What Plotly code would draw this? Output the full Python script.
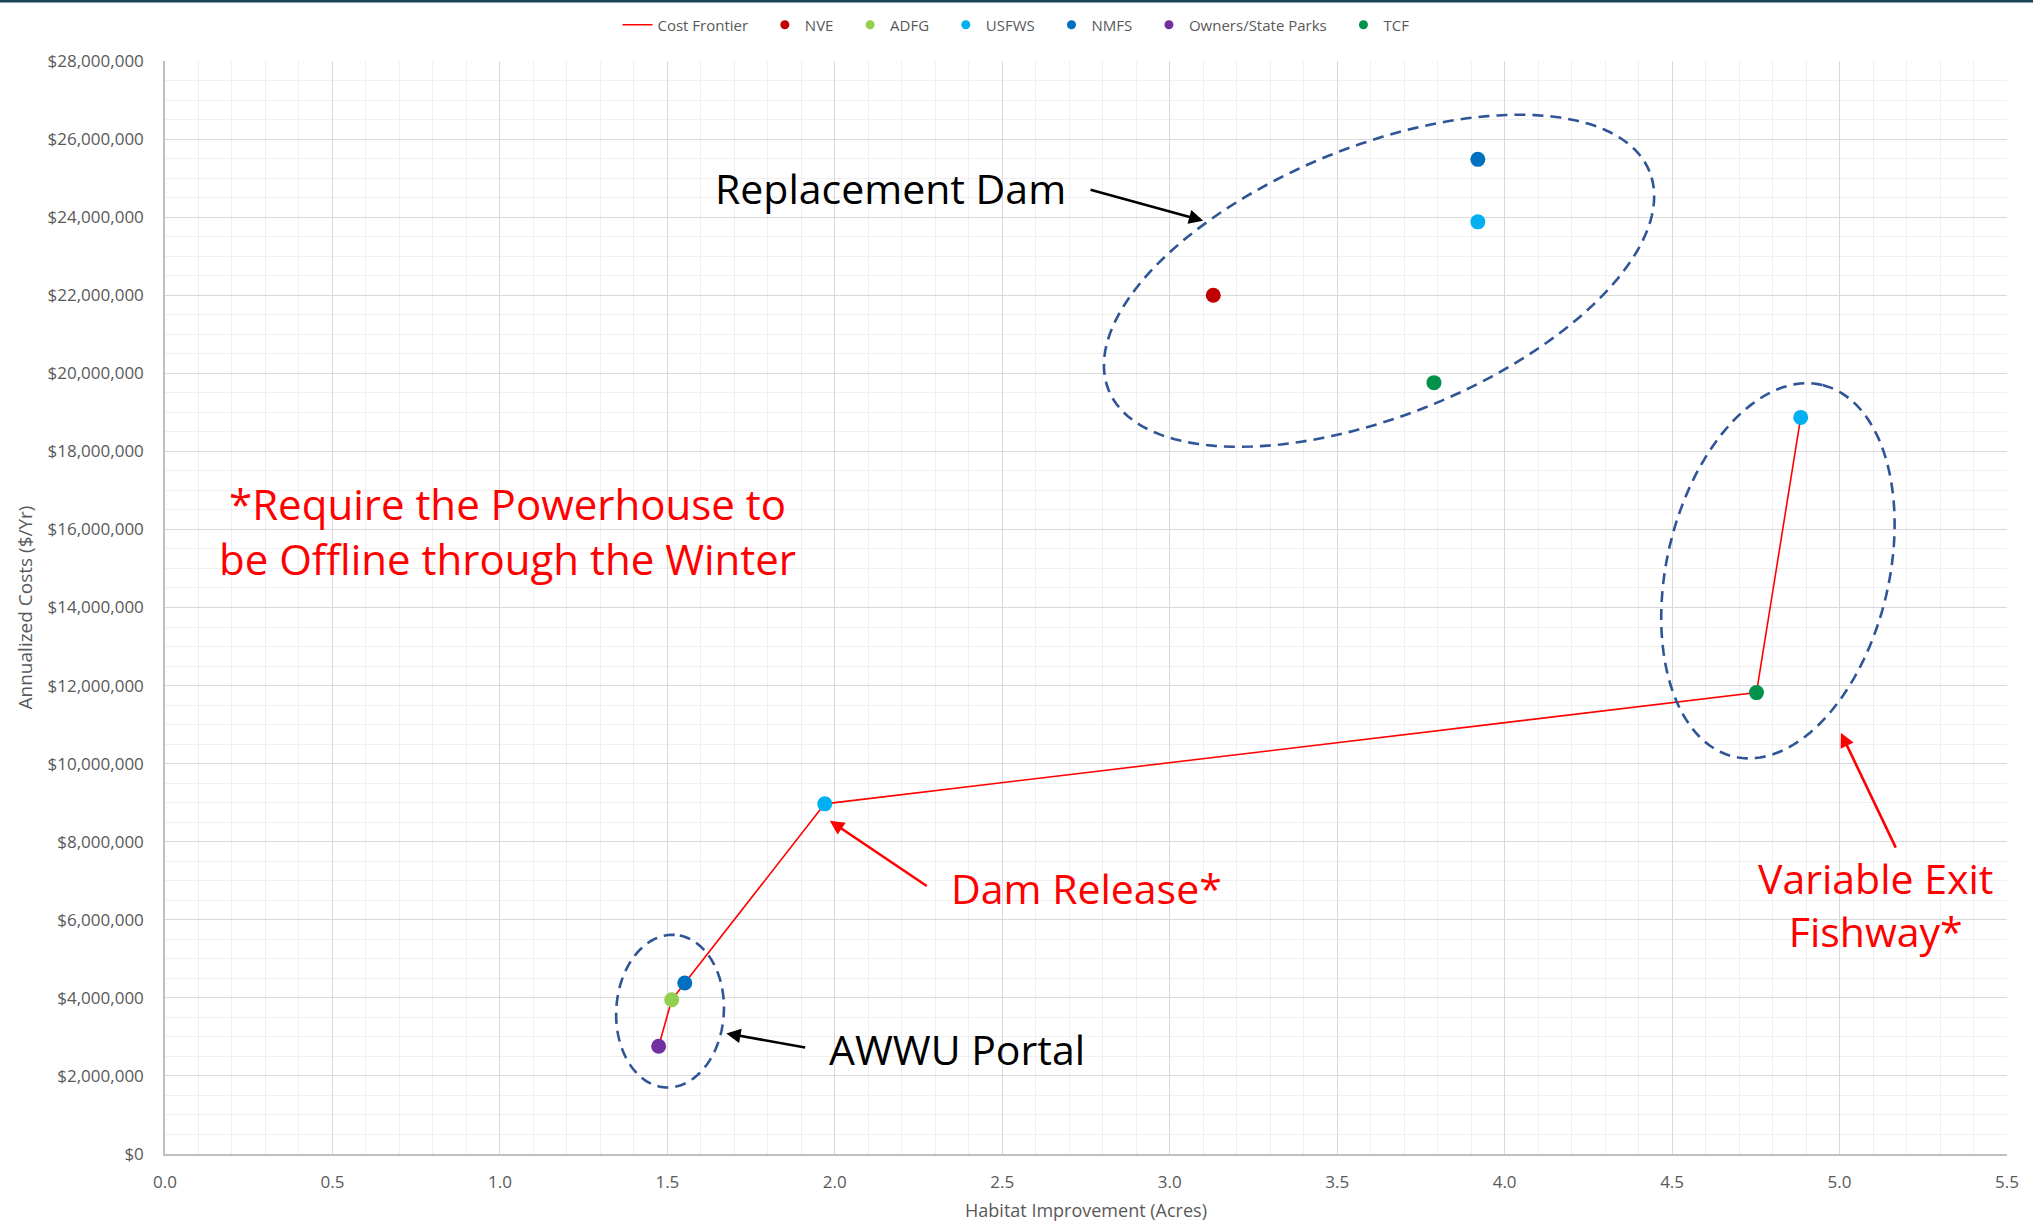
import numpy as np
import plotly.graph_objects as go

# ---------------- data ----------------
series_names = ["NVE", "ADFG", "USFWS", "NMFS", "Owners/State Parks", "TCF"]
series_colors = ["#C00000", "#92D050", "#00B0F0", "#0070C0", "#7030A0", "#00924A"]

nve_x = [3.13]
nve_y = [22_000_000]
adfg_x = [1.513]
adfg_y = [3_950_000]
usfws_x = [1.970, 3.920, 4.884]
usfws_y = [8_970_000, 23_880_000, 18_870_000]
nmfs_x = [1.552, 3.920]
nmfs_y = [4_380_000, 25_480_000]
owners_x = [1.474]
owners_y = [2_760_000]
tcf_x = [3.789, 4.752]
tcf_y = [19_760_000, 11_820_000]

frontier_x = [1.474, 1.513, 1.552, 1.970, 4.752, 4.884]
frontier_y = [2_760_000, 3_950_000, 4_380_000, 8_970_000, 11_820_000, 18_870_000]

series_x = [nve_x, adfg_x, usfws_x, nmfs_x, owners_x, tcf_x]
series_y = [nve_y, adfg_y, usfws_y, nmfs_y, owners_y, tcf_y]

X_RANGE = [0, 5.5]
Y_RANGE = [0, 28_000_000]

# ---------------- layout geometry ----------------
W, H = 2033, 1222
ML, MR, MT, MB = 165, 26, 61, 68
PW, PH = W - ML - MR, H - MT - MB
PX_X = PW / (X_RANGE[1] - X_RANGE[0])
PX_Y = PH / (Y_RANGE[1] - Y_RANGE[0])

FONT = "Open Sans"
GRAY = "#595959"
GAP = "\u00a0" * 3

fig = go.Figure()

# cost frontier line
fig.add_trace(go.Scatter(x=frontier_x, y=frontier_y, mode="lines",
                         line=dict(color="#FF0000", width=1.6),
                         name="Cost Frontier" + GAP, showlegend=True, hoverinfo="skip"))

# series points (legend drawn by small dummy markers)
for name, col, xs, ys in zip(series_names, series_colors, series_x, series_y):
    fig.add_trace(go.Scatter(x=xs, y=ys, mode="markers", name=name,
                             marker=dict(color=col, size=15, line=dict(width=0)),
                             showlegend=False))
for name, col in zip(series_names, series_colors):
    fig.add_trace(go.Scatter(x=[None], y=[None], mode="markers", name=name + GAP,
                             marker=dict(color=col, size=9), showlegend=True))


def ellipse_path(cx, cy, a, b, deg, n=160):
    th = np.radians(deg)
    t = np.linspace(0, 2 * np.pi, n, endpoint=False)
    dx = a * np.cos(t) * np.cos(th) - b * np.sin(t) * np.sin(th)
    dy = a * np.cos(t) * np.sin(th) + b * np.sin(t) * np.cos(th)
    xs = cx + dx / PX_X
    ys = cy + dy / PX_Y
    return "M " + " L ".join(f"{x:.5f},{y:.1f}" for x, y in zip(xs, ys)) + " Z"


ell_style = dict(color="#2F5597", width=2.6, dash="11px,7px")
shapes = [
    dict(type="path", xref="x", yref="y",
         path=ellipse_path(3.625, 22_370_000, 291.7, 134.8, 22), line=ell_style),
    dict(type="path", xref="x", yref="y",
         path=ellipse_path(4.816, 14_940_000, 191, 111, 76.6), line=ell_style),
    dict(type="path", xref="x", yref="y",
         path=ellipse_path(1.508, 3_660_000, 76.4, 53.8, 86.5), line=ell_style),
    # dark top border of the chart frame
    dict(type="rect", xref="paper", yref="paper",
         x0=-ML / PW, x1=1 + MR / PW, y0=1 + (MT - 2.5) / PH, y1=1 + MT / PH,
         line=dict(width=0), fillcolor="#1B4457"),
]


def arrow(x, y, ax, ay, color):
    return dict(x=x, y=y, ax=ax, ay=ay, xref="x", yref="y", axref="x", ayref="y",
                text="", showarrow=True, arrowhead=2, arrowsize=1.1,
                arrowwidth=2.6, arrowcolor=color, standoff=0, startstandoff=0)


def label(x, y, text, color, size=41):
    return dict(x=x, y=y, xref="x", yref="y", text=text, showarrow=False,
                font=dict(family=FONT, size=size, color=color),
                xanchor="center", yanchor="middle", align="center")


annotations = [
    arrow(3.100, 23_910_000, 2.759, 24_710_000, "#000000"),
    arrow(1.985, 8_540_000, 2.279, 6_840_000, "#FF0000"),
    arrow(1.676, 3_090_000, 1.916, 2_720_000, "#000000"),
    arrow(5.004, 10_790_000, 5.170, 7_810_000, "#FF0000"),
    label(2.165, 24_750_000, "Replacement Dam", "#000000"),
    label(1.022, 15_960_000, "*Require the Powerhouse to<br>be Offline through the Winter", "#FF0000", 42),
    label(2.750, 6_810_000, "Dam Release*", "#FF0000"),
    label(2.366, 2_690_000, "AWWU Portal", "#000000"),
    label(5.108, 6_380_000, "Variable Exit<br>Fishway*", "#FF0000"),
]

fig.update_layout(
    width=W, height=H,
    margin=dict(l=ML, r=MR, t=MT, b=MB, pad=0, autoexpand=False),
    paper_bgcolor="white", plot_bgcolor="white",
    font=dict(family=FONT, color=GRAY, size=16),
    shapes=shapes, annotations=annotations,
    legend=dict(orientation="h", x=(1022 - ML) / PW, xanchor="center",
                y=1 + (MT - 25) / PH, yanchor="middle",
                font=dict(family=FONT, size=15, color=GRAY),
                bgcolor="rgba(0,0,0,0)", itemwidth=30, tracegroupgap=0),
    showlegend=True,
)

fig.update_xaxes(
    range=X_RANGE, dtick=0.5, tick0=0, tickformat=".1f", automargin=False,
    showgrid=True, gridcolor="#D9D9D9", gridwidth=1,
    minor=dict(dtick=0.1, showgrid=True, gridcolor="#F0F0F0", gridwidth=1),
    showline=True, linecolor="#BFBFBF", linewidth=1.5,
    ticks="outside", ticklen=12, tickcolor="rgba(0,0,0,0)",
    tickfont=dict(family=FONT, size=17, color=GRAY),
    title=dict(text="Habitat Improvement (Acres)", standoff=14,
               font=dict(family=FONT, size=18, color=GRAY)),
    zeroline=False,
)
fig.update_yaxes(
    range=Y_RANGE, dtick=2_000_000, tick0=0, tickformat="$,.0f", automargin=False,
    showgrid=True, gridcolor="#D9D9D9", gridwidth=1,
    minor=dict(dtick=500_000, showgrid=True, gridcolor="#F0F0F0", gridwidth=1),
    showline=True, linecolor="#BFBFBF", linewidth=1.5,
    ticks="outside", ticklen=16, tickcolor="rgba(0,0,0,0)",
    tickfont=dict(family=FONT, size=17, color=GRAY),
    title=dict(text="Annualized Costs ($/Yr)", standoff=10,
               font=dict(family=FONT, size=19, color=GRAY)),
    zeroline=False,
)

fig.write_html("out.html", config=dict(displayModeBar=False),
               post_script="document.body.style.margin='0';")
